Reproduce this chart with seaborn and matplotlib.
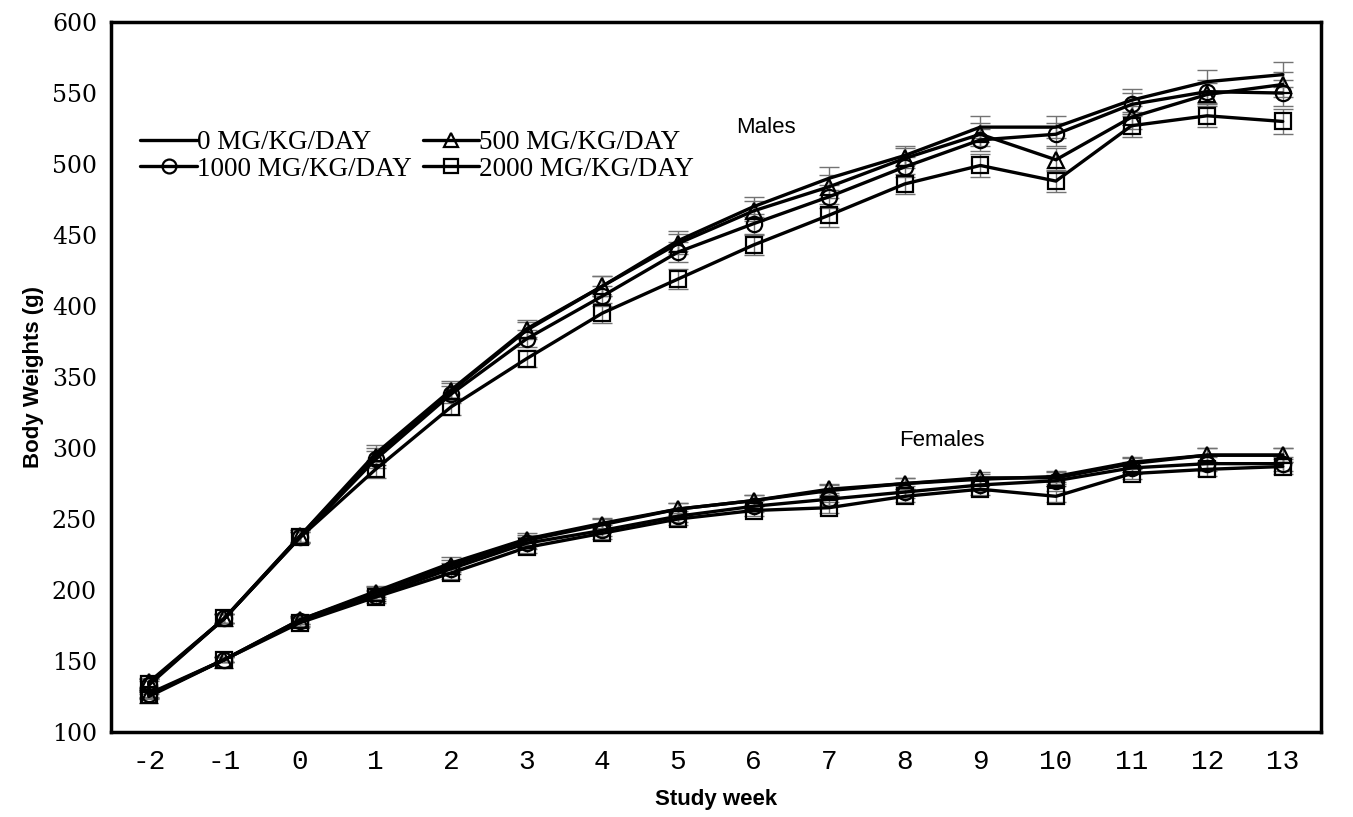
import numpy as np
import pandas as pd
import matplotlib
matplotlib.use("Agg")
import matplotlib.pyplot as plt
import seaborn as sns
from matplotlib.lines import Line2D

weeks = [-2, -1, 0, 1, 2, 3, 4, 5, 6, 7, 8, 9, 10, 11, 12, 13]
doses = ["0 MG/KG/DAY", "500 MG/KG/DAY", "1000 MG/KG/DAY", "2000 MG/KG/DAY"]

males_0 = [134, 180, 238, 296, 341, 384, 414, 446, 470, 490, 506, 526, 526, 545, 558, 563]
males_500 = [135, 180, 238, 294, 340, 383, 414, 444, 467, 484, 504, 521, 503, 533, 549, 556]
males_1000 = [133, 180, 237, 292, 338, 377, 407, 438, 458, 477, 498, 517, 521, 542, 551, 550]
males_2000 = [134, 180, 237, 285, 329, 363, 395, 419, 443, 464, 486, 499, 488, 527, 534, 530]

females_0 = [125, 151, 179, 199, 219, 236, 247, 257, 263, 270, 275, 278, 280, 290, 295, 295]
females_500 = [126, 151, 179, 198, 217, 235, 246, 257, 263, 271, 275, 279, 279, 289, 295, 295]
females_1000 = [127, 151, 178, 196, 215, 233, 242, 252, 259, 264, 269, 274, 277, 286, 289, 289]
females_2000 = [126, 151, 177, 195, 212, 230, 240, 250, 256, 258, 266, 271, 266, 282, 285, 287]

males_sd = [3, 3, 4, 6, 6, 6, 7, 7, 7, 8, 7, 8, 8, 8, 8, 9]
females_sd = [2, 2, 3, 4, 4, 4, 4, 4, 4, 4, 4, 4, 4, 4, 5, 5]

y_ticks = [100, 150, 200, 250, 300, 350, 400, 450, 500, 550, 600]

markers = {doses[0]: "", doses[1]: "^", doses[2]: "o", doses[3]: "s"}

series = {
    ("Males", doses[0]): males_0, ("Males", doses[1]): males_500,
    ("Males", doses[2]): males_1000, ("Males", doses[3]): males_2000,
    ("Females", doses[0]): females_0, ("Females", doses[1]): females_500,
    ("Females", doses[2]): females_1000, ("Females", doses[3]): females_2000,
}
sds = {"Males": males_sd, "Females": females_sd}

rows = []
for (sex, dose), vals in series.items():
    for w, v, s in zip(weeks, vals, sds[sex]):
        rows.append({"sex": sex, "dose": dose, "week": w, "weight": v, "sd": s})
df = pd.DataFrame(rows)

sns.set_theme(style="white")
plt.rcParams.update({"text.color": "black", "axes.labelcolor": "black",
                     "xtick.color": "black", "ytick.color": "black"})
fig = plt.figure(figsize=(13.53, 8.17), dpi=100)
ax = fig.add_axes([0.082, 0.104, 0.894, 0.869])

for (sex, dose), sub in df.groupby(["sex", "dose"], sort=False):
    ax.errorbar(sub["week"], sub["weight"], yerr=sub["sd"], fmt="none",
                ecolor="0.45", elinewidth=1.0, capsize=7, capthick=1.0, zorder=2)
    sns.lineplot(data=sub, x="week", y="weight", ax=ax, color="black",
                 linewidth=2.4, marker=markers[dose] if markers[dose] else None,
                 markersize=11, markerfacecolor="none", markeredgecolor="black",
                 markeredgewidth=1.6, estimator=None, errorbar=None, legend=False,
                 zorder=3)

ax.set_xlim(-2.5, 13.5)
ax.set_ylim(100, 600)
ax.set_yticks(y_ticks)
ax.set_yticklabels([str(t) for t in y_ticks], family="DejaVu Serif", fontsize=17)
ax.set_xticks(weeks)
ax.set_xticklabels([str(w) for w in weeks], family="Liberation Mono", fontsize=20)
ax.set_xticks(np.arange(-2.5, 14, 1.0), minor=True)
ax.tick_params(axis="x", which="major", length=0, pad=12, labelcolor="black")
ax.tick_params(axis="x", which="minor", length=7, width=1, color="0.4", direction="out")
ax.tick_params(axis="y", which="major", length=7, width=1, color="0.4", direction="out",
               pad=3, labelcolor="black")

for sp in ax.spines.values():
    sp.set_visible(True)
    sp.set_color("black")
    sp.set_linewidth(2.5)

ax.set_xlabel("Study week", family="Liberation Sans", fontweight="bold", fontsize=16,
              labelpad=10, color="black")
ax.set_ylabel("Body Weights (g)", family="Liberation Sans", fontweight="bold", fontsize=16,
              labelpad=6, color="black")

ax.text(6.17, 526, "Males", family="Liberation Sans", fontsize=16, ha="center", va="center",
        color="black")
ax.text(8.49, 305, "Females", family="Liberation Sans", fontsize=16, ha="center", va="center",
        color="black")

handles = []
for d in [doses[0], doses[2], doses[1], doses[3]]:
    handles.append(Line2D([], [], color="black", linewidth=2.4,
                          marker=markers[d] if markers[d] else None, markersize=10,
                          markerfacecolor="none", markeredgewidth=1.6))
labels = [doses[0], doses[2], doses[1], doses[3]]
leg = ax.legend(handles, labels, ncol=2, loc="upper left", bbox_to_anchor=(0.004, 0.882),
                frameon=False, prop={"family": "Liberation Serif", "size": 19.5},
                handlelength=2.1, handletextpad=0.0, columnspacing=0.4, labelspacing=0.05)
for t in leg.get_texts():
    t.set_color("black")

fig.savefig("out.png", dpi=100)
